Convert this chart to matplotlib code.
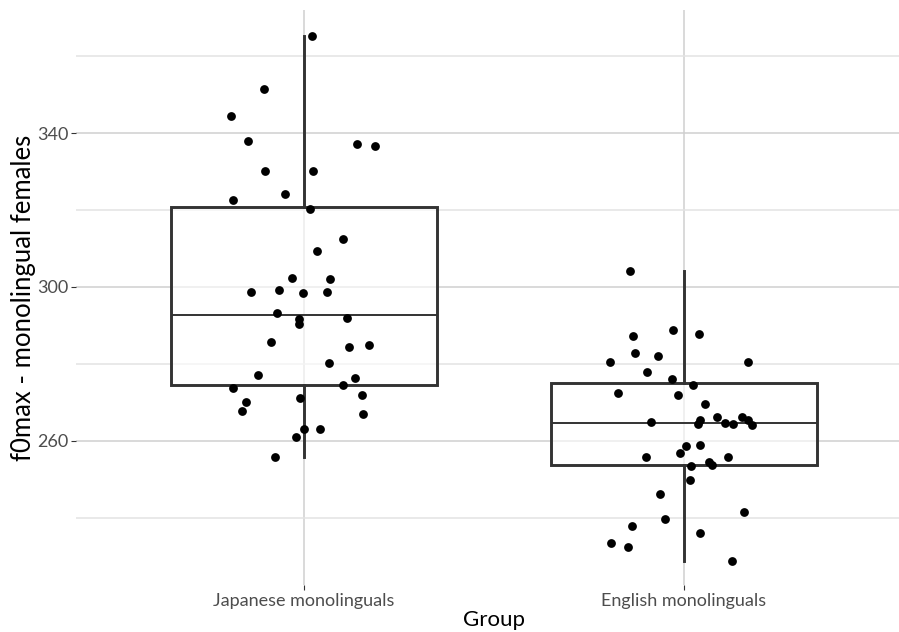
import matplotlib
matplotlib.use("Agg")
import matplotlib.pyplot as plt
from matplotlib.ticker import FixedLocator

groups = ["Japanese monolinguals", "English monolinguals"]

# f0max per speaker, Japanese monolingual females
japanese_f0max = [365.20, 351.42, 344.41, 337.91, 337.13, 336.61, 330.19, 330.03,
                  324.13, 322.50, 320.23, 312.44, 309.24, 302.22, 302.12, 298.74,
                  299.26, 298.32, 298.74, 293.28, 291.64, 290.42, 291.98, 285.67,
                  284.29, 284.97, 280.13, 277.09, 276.31, 273.79, 274.57, 271.81,
                  271.03, 269.99, 267.65, 267.03, 263.13, 263.13, 260.98, 255.85]
# horizontal jitter of each point (category units)
japanese_jitter = [0.020, -0.106, -0.192, -0.147, 0.139, 0.186, -0.103, 0.023,
                   -0.050, -0.187, 0.016, 0.103, 0.033, -0.031, 0.069, -0.139,
                   -0.065, -0.003, 0.061, -0.071, -0.013, -0.013, 0.114, -0.086,
                   0.118, 0.171, 0.066, -0.121, 0.135, -0.187, 0.103, 0.153,
                   -0.010, -0.153, -0.163, 0.155, 0.001, 0.043, -0.021, -0.076]

# f0max per speaker, English monolingual females
english_f0max = [304.04, 288.71, 287.67, 287.15, 282.89, 282.03, 280.55, 280.47,
                 277.95, 276.13, 274.57, 272.41, 271.81, 269.47, 266.25, 266.17,
                 265.47, 264.02, 264.80, 265.32, 264.43, 264.61, 264.43, 258.71,
                 258.90, 256.82, 255.85, 254.48, 253.62, 255.85, 253.44, 249.72,
                 246.24, 241.56, 239.66, 237.84, 236.02, 233.42, 232.46, 228.82]
english_jitter = [-0.142, -0.028, 0.039, -0.134, -0.128, -0.068, -0.195, 0.169,
                  -0.097, -0.031, 0.023, -0.173, -0.016, 0.055, 0.087, 0.153,
                  0.168, 0.178, -0.086, 0.043, 0.036, 0.107, 0.130, 0.005,
                  0.041, -0.011, -0.100, 0.065, 0.074, 0.115, 0.019, 0.016,
                  -0.063, 0.159, -0.049, -0.138, 0.041, -0.192, -0.147, 0.125]

major_ticks = [260, 300, 340]
minor_ticks = [240, 280, 320, 360]

plt.rcParams["font.family"] = ["Lato", "DejaVu Sans"]

fig = plt.figure(figsize=(8.99, 6.32), dpi=100)
ax = fig.add_axes([76 / 899, 1 - 585 / 632, 836 / 899, 575 / 632])

positions = [1, 2]
box_line = dict(color="#333333", linewidth=2.1)
ax.boxplot([japanese_f0max, english_f0max], positions=positions, widths=0.7,
           whis=1.5, showfliers=False, showcaps=False, patch_artist=True,
           boxprops=dict(facecolor=(1, 1, 1, 0.6), edgecolor="#333333", linewidth=2.1),
           whiskerprops=box_line,
           medianprops=dict(color="#333333", linewidth=1.4),
           zorder=2)

for pos, values, jitter in [(1, japanese_f0max, japanese_jitter),
                            (2, english_f0max, english_jitter)]:
    xs = [pos + j for j in jitter]
    ax.scatter(xs, values, s=40, color="black", linewidths=0, zorder=3)

ax.set_xlim(0.4, 2.6)
ax.set_ylim(222.5, 372.0)

ax.set_xticks(positions)
ax.set_xticklabels(groups)
ax.yaxis.set_major_locator(FixedLocator(major_ticks))
ax.yaxis.set_minor_locator(FixedLocator(minor_ticks))

ax.grid(True, which="major", color="#cfcfcf", linewidth=1.1, zorder=0)
ax.grid(True, which="minor", axis="y", color="#e3e3e3", linewidth=1.1, zorder=0)
ax.set_axisbelow(True)

for side in ["top", "right", "bottom", "left"]:
    ax.spines[side].set_visible(False)

ax.tick_params(axis="both", which="major", length=3.5, width=0.8, color="#333333",
               labelsize=13, labelcolor="#4d4d4d", pad=2)
ax.tick_params(axis="y", which="minor", length=0)

ax.set_xlabel("Group", fontsize=16, color="black", labelpad=1)
ax.set_ylabel("f0max - monolingual females", fontsize=18.5, color="black")
ax.yaxis.set_label_coords(-0.048, 0.5)

fig.savefig("out.png", dpi=100)
